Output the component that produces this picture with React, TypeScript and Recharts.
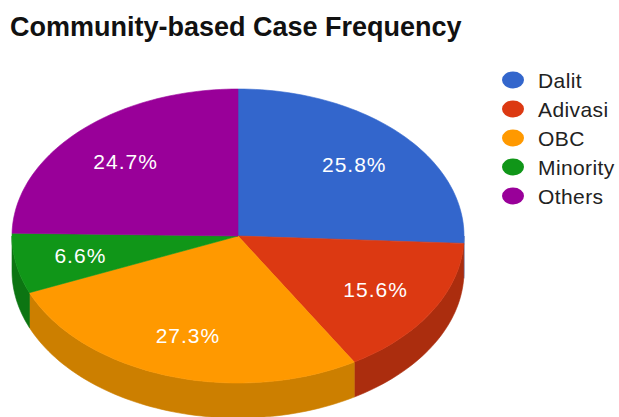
import React from "react";
import { PieChart, Pie, Cell, Legend } from "recharts";

const categories = ["Dalit", "Adivasi", "OBC", "Minority", "Others"];
const shares = [25.8, 15.6, 27.3, 6.6, 24.7];
const topColors = ["#3366cc", "#dc3912", "#ff9900", "#109618", "#990099"];
const sideColors = ["#284fa0", "#ab2d0e", "#cc7f00", "#0c7512", "#760076"];
const title = "Community-based Case Frequency";

const data = categories.map((name, i) => ({ name, value: shares[i] }));

const RATIO = 147 / 226;
const DEPTH = 35;
const FONT = "'Liberation Sans', Arial, sans-serif";

function pt(cx: number, cy: number, rx: number, ry: number, deg: number) {
  const r = (deg * Math.PI) / 180;
  return [cx + rx * Math.cos(r), cy - ry * Math.sin(r)];
}

function TopSlice(props: any) {
  const { cx, cy, outerRadius, startAngle, endAngle, fill } = props;
  const rx = outerRadius;
  const ry = outerRadius * RATIO;
  const n = Math.max(2, Math.ceil(Math.abs(endAngle - startAngle) / 1.5));
  let d = `M${cx},${cy}`;
  for (let i = 0; i <= n; i++) {
    const a = startAngle + ((endAngle - startAngle) * i) / n;
    const [x, y] = pt(cx, cy, rx, ry, a);
    d += ` L${x.toFixed(2)},${y.toFixed(2)}`;
  }
  d += " Z";
  return <path d={d} fill={fill} stroke={fill} strokeWidth={0.6} />;
}

function SideSlice(props: any) {
  const { cx, cy, outerRadius, startAngle, endAngle, fill } = props;
  const rx = outerRadius;
  const ry = outerRadius * RATIO;
  const lo = Math.min(startAngle, endAngle);
  const hi = Math.max(startAngle, endAngle);
  const parts: any[] = [];
  for (let k = -2; k <= 1; k++) {
    const a1 = Math.max(lo, -180 + 360 * k);
    const a2 = Math.min(hi, 360 * k);
    if (a2 <= a1) continue;
    const n = Math.max(2, Math.ceil((a2 - a1) / 1.5));
    let d = "";
    for (let i = 0; i <= n; i++) {
      const a = a1 + ((a2 - a1) * i) / n;
      const [x, y] = pt(cx, cy, rx, ry, a);
      d += `${i === 0 ? "M" : " L"}${x.toFixed(2)},${y.toFixed(2)}`;
    }
    for (let i = n; i >= 0; i--) {
      const a = a1 + ((a2 - a1) * i) / n;
      const [x, y] = pt(cx, cy, rx, ry, a);
      d += ` L${x.toFixed(2)},${(y + DEPTH).toFixed(2)}`;
    }
    d += " Z";
    parts.push(<path key={k} d={d} fill={fill} stroke={fill} strokeWidth={0.6} />);
  }
  return <g>{parts}</g>;
}

function renderLabel(props: any) {
  const { cx, cy, midAngle, outerRadius, value } = props;
  const rx = outerRadius;
  const ry = outerRadius * RATIO;
  const [x, y] = pt(cx, cy, rx * 0.71, ry * 0.71, midAngle);
  return (
    <text
      x={x}
      y={y}
      fill="#ffffff"
      textAnchor="middle"
      dominantBaseline="central"
      fontFamily={FONT}
      fontSize={21}
      letterSpacing={1}
    >
      {`${Number(value).toFixed(1)}%`}
    </text>
  );
}

function renderLegend(props: any) {
  const payload = (props.payload || [])
    .filter((p: any) => p.type !== "none")
    .slice()
    .sort(
      (a: any, b: any) =>
        categories.indexOf(String(a.value)) - categories.indexOf(String(b.value))
    );
  return (
    <div>
      {payload.map((p: any, i: number) => (
        <div
          key={i}
          style={{ display: "flex", alignItems: "center", height: 29 }}
        >
          <svg width={24} height={18} style={{ marginRight: 13 }}>
            <ellipse cx={12} cy={9} rx={11} ry={8.5} fill={p.color} />
          </svg>
          <span
            style={{
              fontFamily: FONT,
              fontSize: 21,
              lineHeight: "21px",
              color: "#222222",
              letterSpacing: 0.4,
              whiteSpace: "nowrap",
            }}
          >
            {p.value}
          </span>
        </div>
      ))}
    </div>
  );
}

export default function App() {
  return (
    <div
      style={{
        position: "absolute",
        left: 0,
        top: 0,
        width: 619,
        height: 417,
        background: "#ffffff",
        overflow: "hidden",
      }}
    >
      <div
        style={{
          position: "absolute",
          left: 10,
          top: 13.6,
          fontFamily: FONT,
          fontWeight: "bold",
          fontSize: 27,
          lineHeight: "27px",
          color: "#111111",
          whiteSpace: "nowrap",
        }}
      >
        {title}
      </div>
      <PieChart width={619} height={417} margin={{ top: 0, right: 0, bottom: 0, left: 0 }}>
        <Pie
          data={data}
          dataKey="value"
          nameKey="name"
          cx={238}
          cy={236}
          outerRadius={226}
          startAngle={90}
          endAngle={-270}
          stroke="none"
          legendType="none"
          isAnimationActive={false}
          shape={SideSlice}
          label={false}
          labelLine={false}
        >
          {data.map((d, i) => (
            <Cell key={d.name} fill={sideColors[i]} />
          ))}
        </Pie>
        <Pie
          data={data}
          dataKey="value"
          nameKey="name"
          cx={238}
          cy={236}
          outerRadius={226}
          startAngle={90}
          endAngle={-270}
          stroke="none"
          legendType="circle"
          isAnimationActive={false}
          shape={TopSlice}
          label={renderLabel}
          labelLine={false}
        >
          {data.map((d, i) => (
            <Cell key={d.name} fill={topColors[i]} />
          ))}
        </Pie>
        <Legend
          layout="vertical"
          align="right"
          verticalAlign="top"
          itemSorter={null as any}
          content={renderLegend}
          wrapperStyle={{ left: 501, top: 65.5, width: 118 }}
        />
      </PieChart>
    </div>
  );
}
